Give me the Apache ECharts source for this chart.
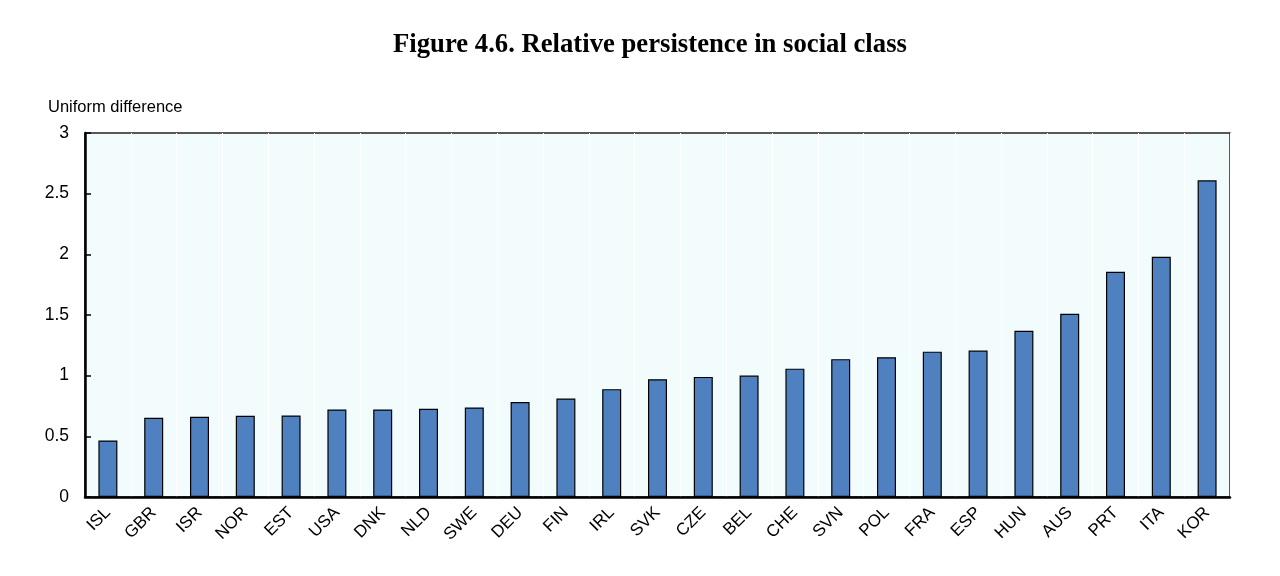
<!DOCTYPE html>
<html>
<head>
<meta charset="utf-8">
<script src="https://cdn.jsdelivr.net/npm/echarts@6/dist/echarts.min.js"></script>
<style>
  html, body { margin: 0; padding: 0; background: #fff; }
  #chart { width: 1280px; height: 576px; }
</style>
</head>
<body>
<div id="chart"></div>
<script>
var countries = ["ISL", "GBR", "ISR", "NOR", "EST", "USA", "DNK", "NLD", "SWE", "DEU", "FIN", "IRL", "SVK",
    "CZE", "BEL", "CHE", "SVN", "POL", "FRA", "ESP", "HUN", "AUS", "PRT", "ITA", "KOR"];
var uniformDiff = [0.466, 0.653, 0.661, 0.669, 0.672, 0.721, 0.721, 0.727, 0.738, 0.782, 0.812, 0.889, 0.971,
    0.990, 1.001, 1.058, 1.136, 1.152, 1.198, 1.207, 1.37, 1.51, 1.857, 1.98, 2.61];

(function () {
    var myChart = echarts.init(document.getElementById('chart'));
    var option = {
        animation: false,
        title: {
            text: 'Figure 4.6. Relative persistence in social class',
            left: 388,
            top: 27,
            textStyle: {
                fontFamily: 'Liberation Serif',
                fontWeight: 'bold',
                fontSize: 26.7,
                color: '#000'
            }
        },
        grid: {
            left: 85,
            right: 50,
            top: 133,
            bottom: 79,
            show: true,
            backgroundColor: '#f3fcfc',
            borderColor: '#222',
            borderWidth: 1.5
        },
        xAxis: {
            type: 'category',
            data: countries,
            axisLine: { lineStyle: { color: '#000', width: 2.5 } },
            axisTick: { inside: true, length: 6, lineStyle: { color: '#000', width: 1.5 } },
            splitLine: { show: true, lineStyle: { color: '#ffffff', width: 1 } },
            axisLabel: {
                rotate: 45,
                color: '#000',
                fontFamily: 'Liberation Sans',
                fontSize: 17,
                margin: 13
            }
        },
        yAxis: {
            type: 'value',
            min: 0,
            max: 3,
            interval: 0.5,
            name: 'Uniform difference',
            nameLocation: 'end',
            nameGap: 17,
            nameTextStyle: {
                align: 'left',
                padding: [0, 0, 0, -37],
                color: '#000',
                fontFamily: 'Liberation Sans',
                fontSize: 16.5
            },
            axisLine: { show: true, lineStyle: { color: '#000', width: 2.5 } },
            axisTick: { show: true, inside: true, length: 6, lineStyle: { color: '#000', width: 1.5 } },
            splitLine: { show: false },
            axisLabel: {
                color: '#000',
                fontFamily: 'Liberation Sans',
                fontSize: 17.5,
                margin: 16
            }
        },
        series: [
            {
                name: 'Uniform difference',
                type: 'bar',
                data: uniformDiff,
                barWidth: 19,
                itemStyle: {
                    color: '#4f80bf',
                    borderColor: '#000',
                    borderWidth: 1.2
                }
            }
        ]
    };
    myChart.setOption(option);
})();
</script>
</body>
</html>
